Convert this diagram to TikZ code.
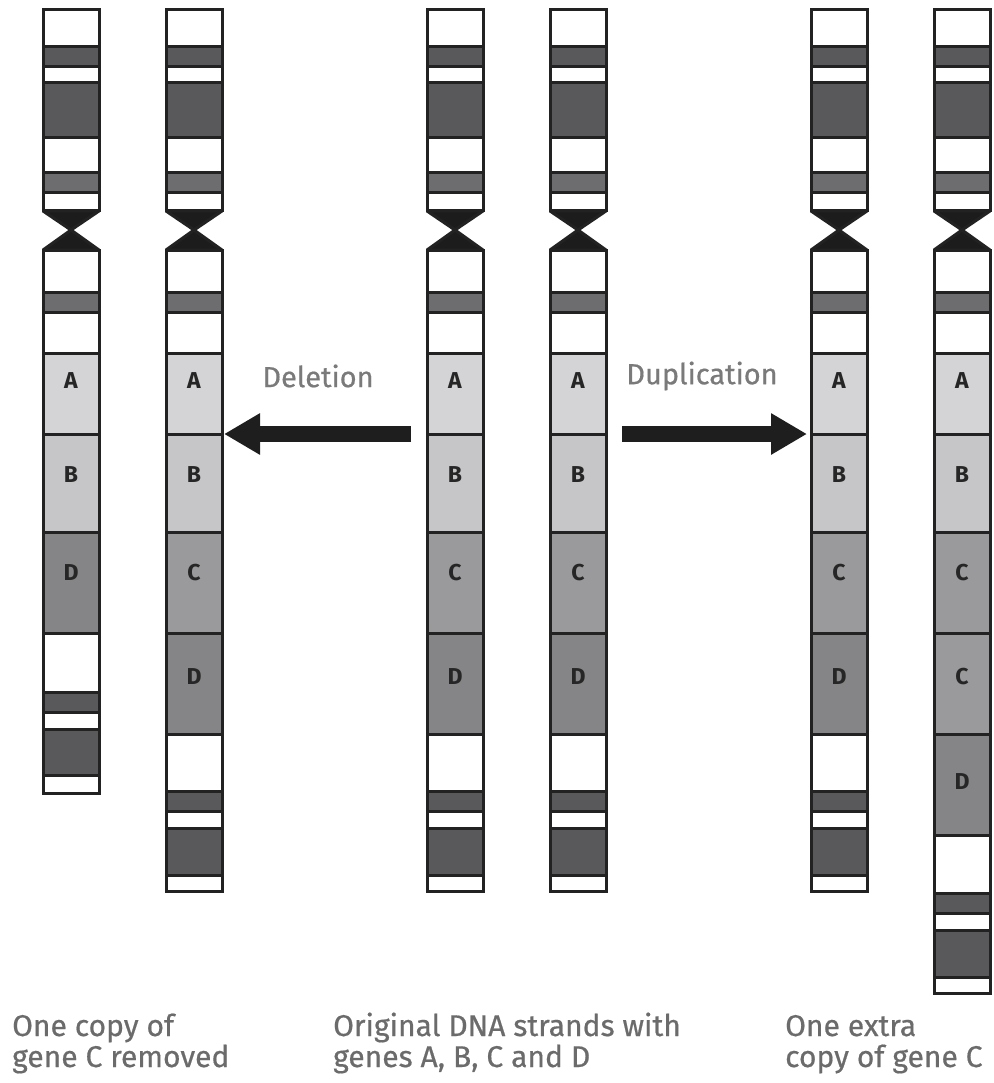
\documentclass[tikz,border=0pt]{standalone}
\usepackage{fontspec}
\setmainfont{Fira Sans}
\newfontfamily\labelfont[FakeBold=0.6]{Fira Sans}
\usetikzlibrary{arrows.meta}

\definecolor{outline}{HTML}{222222}
\definecolor{bandDark}{HTML}{59595B}
\definecolor{bandMid}{HTML}{6D6D6F}
\definecolor{geneA}{HTML}{D4D4D6}
\definecolor{geneB}{HTML}{C6C6C8}
\definecolor{geneC}{HTML}{9A9A9C}
\definecolor{geneD}{HTML}{858587}
\definecolor{centro}{HTML}{1C1C1C}
\definecolor{captext}{HTML}{6B6B6B}
\definecolor{labeltext}{HTML}{7A7A7A}
\definecolor{arrowfill}{HTML}{1E1E1E}
\definecolor{genetext}{HTML}{262626}

% bands shared by every chromosome, from the top down to gene B
\def\upperbands{10/47/white,47/67/bandDark,67/83/white,83/138/bandDark,138/173/white,173/193/bandMid,193/211/white,250/292/white,292/312/bandMid,312/353/white,353/434/geneA,434/532/geneB}
% chromosome missing gene C
\edef\bandsDel{\upperbands,532/633/geneD,633/692/white,692/712/bandDark,712/729/white,729/775/bandDark,775/793/white}
% normal chromosome
\edef\bandsOrig{\upperbands,532/633/geneC,633/734/geneD,734/791/white,791/811/bandDark,811/828/white,828/875/bandDark,875/891/white}
% chromosome with an extra copy of gene C
\edef\bandsDup{\upperbands,532/633/geneC,633/734/geneC,734/835/geneD,835/893/white,893/913/bandDark,913/930/white,930/977/bandDark,977/993/white}

% #1 name, #2 left edge, #3 band list
\newcommand\chromosome[3]{%
  \begin{scope}[shift={(#2,0)}]
    \foreach \ya/\yb/\col in #3 {
      \filldraw[band, fill=\col] (0,\ya) rectangle (56,\yb);
    }
    \filldraw[centromere] (0,211) -- (56,211) -- (28,230) -- (56,250) -- (0,250) -- (28,230) -- cycle;
    \coordinate (#1-west) at (0,434);
    \coordinate (#1-east) at (56,434);
  \end{scope}
}

\tikzset{
  band/.style={draw=outline, line width=3pt, line join=miter},
  centromere/.style={fill=centro, draw=outline, line width=3pt, line join=bevel},
  gene/.style={font=\fontsize{23}{23}\selectfont\bfseries, text=genetext, inner sep=0pt},
  oplabel/.style={font=\labelfont\fontsize{29}{29}\selectfont, text=labeltext, inner sep=0pt},
  caption/.style={font=\labelfont\fontsize{30}{31}\selectfont, text=captext, align=left, inner sep=0pt, anchor=base west},
  bigarrow/.style={draw=arrowfill, line width=16pt, -{Triangle[length=36pt, width=39pt]}},
}

\begin{document}
\begin{tikzpicture}[x=1pt, y=-1pt]
  \useasboundingbox (0,0) rectangle (993,1083);

  \chromosome{c1}{43}{\bandsDel}
  \chromosome{c2}{166}{\bandsOrig}
  \chromosome{c3}{427}{\bandsOrig}
  \chromosome{c4}{550}{\bandsOrig}
  \chromosome{c5}{811}{\bandsOrig}
  \chromosome{c6}{934}{\bandsDup}

  % gene names
  \node[gene] (c1A) at (71,381) {A};
  \node[gene] (c1B) at (71,475) {B};
  \node[gene] (c1D) at (71,573) {D};
  \foreach \cx/\nm in {194/c2,455/c3,578/c4,839/c5} {
    \node[gene] (\nm A) at (\cx,381) {A};
    \node[gene] (\nm B) at (\cx,475) {B};
    \node[gene] (\nm C) at (\cx,573) {C};
    \node[gene] (\nm D) at (\cx,677) {D};
  }
  \node[gene] (c6A) at (962,381) {A};
  \node[gene] (c6B) at (962,475) {B};
  \node[gene] (c6C) at (962,573) {C};
  \node[gene] (c6C2) at (962,677) {C};
  \node[gene] (c6D) at (962,782) {D};

  % mutation arrows
  \node[oplabel] (del) at (318,376) {Deletion};
  \node[oplabel] (dup) at (702,376) {Duplication};
  \draw[bigarrow] ([xshift=-16pt]c3-west) -- ([xshift=2pt]c2-east);
  \draw[bigarrow] ([xshift=16pt]c4-east) -- ([xshift=-4pt]c5-west);

  % captions (anchored at the baseline of their last line)
  \node[caption] (capL) at (12,1067) {One copy of\\gene C removed};
  \node[caption] (capM) at (333,1067) {Original DNA strands with\\genes A, B, C and D};
  \node[caption] (capR) at (785,1067) {One extra\\copy of gene C};
\end{tikzpicture}
\end{document}
